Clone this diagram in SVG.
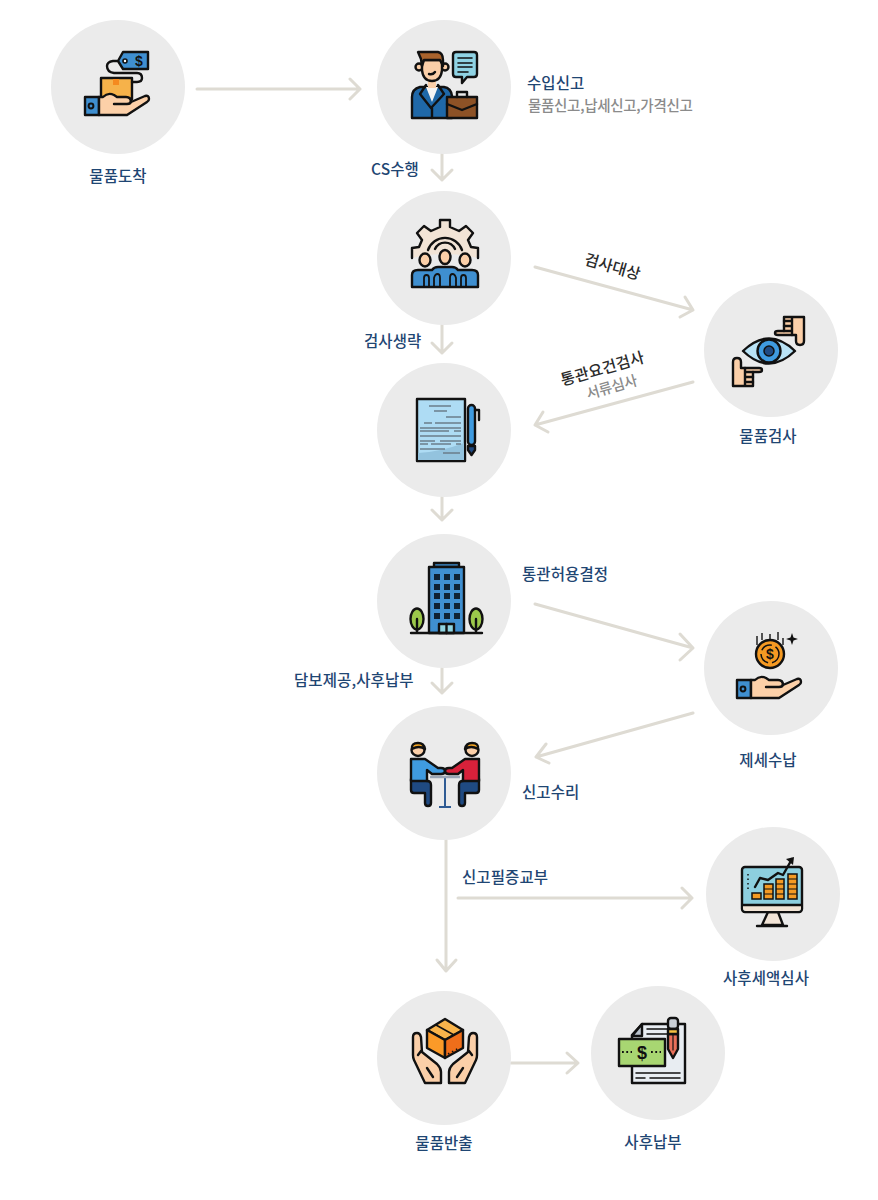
<svg xmlns="http://www.w3.org/2000/svg" xmlns:xlink="http://www.w3.org/1999/xlink" width="878" height="1200" viewBox="0 0 878 1200">
<style>
text{font-family:"Noto Sans CJK KR","Noto Sans",sans-serif;font-size:15.5px;font-weight:500;letter-spacing:.1px}
.n{fill:#1f4673}
.g{fill:#8b8b8b;font-size:14.5px;letter-spacing:-.3px}
.d{fill:#2b2b2b}
.m{text-anchor:middle}
.c{fill:#ebebeb}
.a{fill:none;stroke:#dedbd3;stroke-width:3;stroke-linecap:round;stroke-linejoin:round}
.k{stroke:#111;stroke-width:2.4;stroke-linejoin:round;stroke-linecap:round}
.l{fill:none;stroke:#111;stroke-width:2.4;stroke-linecap:round;stroke-linejoin:round}
.s{font-family:"Liberation Sans",sans-serif;font-weight:700;fill:#111;text-anchor:middle;letter-spacing:0}
</style>
<defs>
<g id="hand">
<rect class="k" x="85" y="97" width="14" height="18" fill="#3f8fd0"/>
<circle cx="91" cy="106" r="2.4" fill="#3f8fd0" stroke="#111" stroke-width="2"/>
<path class="k" fill="#fcd0a8" d="M99,97 L103,97 Q108,92 114,95 L117,97 H126 Q131,97 131,102 L145,96 Q149,95 149,99 Q149,101 147,102 L127,115 H99 Z"/>
<path class="l" d="M114,104 H127 Q131,104 131,101"/>
</g>
<g id="pointer">
<path class="k" fill="#fbcfa8" d="M784,317 H804 V341 Q804,345 800,345 Q796,345 796,341 V335 H778 Q775,335 775,333 Q775,331 778,331 H784 Z"/>
<path class="l" d="M784,321 H792 M784,326 H792 M784,331 H792 M792,318 V335"/>
</g>
<g id="seat">
<path class="k" fill="#1f4a82" d="M411,779 V790 Q411,793 414,793 H425 V803 Q425,806 428,806 Q431,806 431,803 V785 Q431,781 427,781 V779 Z"/>
<path class="k" d="M411,759 H425 L438,768 H441 Q445,768 445,771 Q445,774 441,774 H432 L427,770 V781 H411 Z"/>
<ellipse class="k" cx="418" cy="750" rx="6.5" ry="6" fill="#fbcfa8"/>
<path class="k" fill="#f5a623" d="M412,749 Q411,743 418,743 Q424,743 425,749 Q419,745 412,749 Z"/>
</g>
<g id="palm">
<path class="k" fill="#fbcfa8" d="M425,1083 L414,1060 Q413,1058 413,1055 V1037 Q413,1033 417,1033 Q420,1033 421,1037 L422,1052 L437,1064 Q441,1068 441,1072 V1083 Z"/>
<path class="l" d="M421,1051 L418,1055 M427,1068 L433,1077"/>
</g>
</defs>

<g id="connectors">
<path class="a" d="M197,89 H360 M350,79 L360,89 L350,99"/>
<path class="a" d="M442,154 V180 M432,170 L442,180 L452,170"/>
<path class="a" d="M442,325 V353 M432,343 L442,353 L452,343"/>
<path class="a" d="M442,497 V520 M432,510 L442,520 L452,510"/>
<path class="a" d="M442,668 V693 M432,683 L442,693 L452,683"/>
<path class="a" d="M535,267 L693,310 M685,297 L693,310 L680,317"/>
<path class="a" d="M693,382 L535,425 M543,412 L535,425 L548,432"/>
<path class="a" d="M535,604 L693,648 M680,634 L693,648 L680,660"/>
<path class="a" d="M693,713 L536,757 M546,744 L536,757 L549,763"/>
<path class="a" d="M446,840 V971 M437,960 L446,971 L456,960"/>
<path class="a" d="M458,898 H692 M682,888 L692,898 L682,908"/>
<path class="a" d="M511,1063 H578 M567,1053 L578,1063 L567,1073"/>
</g>

<g id="node-arrival">
<circle class="c" cx="118" cy="87" r="67"/>
<rect class="k" x="101" y="78" width="31" height="21" fill="#f6b24a"/>
<rect x="113" y="79" width="6" height="6" fill="#f58a1f"/>
<path class="l" d="M117,61 H113 Q107,62 107,66 Q107,72 114,73 H137 Q142,73 142,78 Q142,82 137,82 H132"/>
<path class="k" fill="#3f8fd0" d="M118,61 L123,52 H148 V69 H123 Z"/>
<circle cx="125" cy="61" r="2" fill="#fff" stroke="#111" stroke-width="1.6"/>
<text class="s" x="139" y="66" style="font-size:14px">$</text>
<use href="#hand"/>
<text class="n m" x="118" y="182">물품도착</text>
</g>

<g id="node-declare">
<circle class="c" cx="444" cy="87" r="67"/>
<path class="k" fill="#1f68a8" d="M412,118 V97 Q412,89 420,87 H444 Q451,88 452,96 V118 Z"/>
<path fill="#f4f4f4" d="M426,87 H438 L432,102 Z"/>
<path class="l" d="M426,85 L420,94 L431,108 L444,94 L438,85 M432,108 V118"/>
<rect x="428" y="80" width="8" height="8" fill="#fbcfa8"/>
<circle class="k" cx="419" cy="67" r="3.5" fill="#fbcfa8"/>
<circle class="k" cx="445" cy="67" r="3.5" fill="#fbcfa8"/>
<path class="k" fill="#fbcfa8" d="M422,60 H442 V70 Q441,81 432,81 Q423,81 422,70 Z"/>
<path class="k" fill="#a9632c" d="M418,52 H438 Q443,53 443,60 V66 L440,60 H424 L422,66 L421,59 Z"/>
<path class="l" d="M429,74 Q433,75 435,72"/>
<rect class="k" x="447" y="97" width="30" height="21" fill="#8d5226"/>
<path class="l" d="M447,104 L462,110 L477,104 M457,97 V92 H467 V97"/>
<path class="k" fill="#8fd3e4" d="M456,52 H474 Q477,52 477,55 V74 Q477,77 474,77 H467 L462,83 V77 H456 Q453,77 453,74 V55 Q453,52 456,52 Z"/>
<path class="l" d="M458,58 H472 M458,63 H472 M458,67 H472 M458,72 H468" style="stroke-width:1.6"/>
<text class="n" x="527" y="89">수입신고</text>
<text class="g" x="528" y="111">물품신고,납세신고,가격신고</text>
<text class="n" x="371" y="175">CS수행</text>
</g>

<g id="node-inspect-skip">
<circle class="c" cx="444" cy="258" r="67"/>
<path fill="#f2e4d6" d="M412,258 V248 L419,247 L422,240 L417,233 L424,226 L431,231 L440,227 V220 H450 V227 L459,231 L466,226 L473,233 L468,240 L471,247 L478,248 V258 Q445,250 412,258 Z"/>
<path class="l" d="M412,258 V248 L419,247 L422,240 L417,233 L424,226 L431,231 L440,227 V220 H450 V227 L459,231 L466,226 L473,233 L468,240 L471,247 L478,248 V258"/>
<path class="l" d="M428,250 A18,18 0 0 1 462,250 M435,249 A11,11 0 0 1 455,249"/>
<ellipse class="k" cx="425" cy="260" rx="5.500" ry="6.500" fill="#fbcfa8"/>
<ellipse class="k" cx="445" cy="257" rx="5.500" ry="7" fill="#fbcfa8"/>
<ellipse class="k" cx="465" cy="260" rx="5.500" ry="6.500" fill="#fbcfa8"/>
<path class="k" fill="#3f8fd0" d="M412,287 V275 Q412,270 418,270 H432 Q434,267 438,267 H452 Q456,267 458,270 H472 Q478,270 478,275 V287 Z"/>
<path class="l" d="M424,287 V278 Q424,275 426.500,275 Q429,275 429,278 V287 M434,287 V278 Q435,274 437.500,274 Q440,274 440,278 V287 M450,287 V278 Q450,274 452.500,274 Q455,274 456,278 V287 M461,287 V278 Q461,275 463.500,275 Q466,275 466,278 V287" style="stroke-width:1.800"/>
<text class="n" x="364" y="347">검사생략</text>
</g>

<g id="node-document">
<circle class="c" cx="444" cy="430" r="67"/>
<rect class="k" x="417" y="399" width="48" height="62" fill="#aedcf4"/>
<path fill="#93c3de" d="M418,460 V453 Q440,452 464,443 V460 Z"/>
<path fill="none" stroke="#6b7d8a" stroke-width="1.500" d="M429,406 H451 M434,411 H447 M446,417 H461 M424,423 H432 M435,423 H461 M420,428 H461 M420,431 H449 M454,431 H461 M420,436 H461 M420,441 H435 M440,441 H461 M420,444 H428 M431,444 H451 M456,444 H461 M420,449 H445 M443,453 H460"/>
<rect class="k" x="468" y="405" width="7" height="40" rx="3.500" fill="#3f9be0"/>
<path class="k" fill="#1f4a82" d="M468,446 H475 V450 L471.500,455 L468,450 Z"/>
<path class="l" d="M475,410 H479 V420"/>
</g>

<g id="node-inspection">
<circle class="c" cx="771" cy="350" r="67"/>
<path class="k" fill="#b9e3f6" d="M743,351 Q769,326 795,351 Q769,376 743,351 Z"/>
<circle class="k" cx="769" cy="351" r="11.500" fill="#3f9be0"/>
<circle cx="769" cy="351" r="5" fill="#1f4a82" stroke="#111" stroke-width="1.500"/>
<use href="#pointer"/>
<use href="#pointer" transform="rotate(180 768.500 351.500)"/>
<text class="n m" x="768" y="442">물품검사</text>
</g>

<g id="node-building">
<circle class="c" cx="444" cy="601" r="67"/>
<rect class="k" x="434" y="563" width="25" height="4" fill="#3f8fd0"/>
<rect class="k" x="429" y="567" width="35" height="66" fill="#3f8fd0"/>
<g fill="#0f2233">
<rect x="434" y="574" width="6" height="6"/><rect x="444" y="574" width="6" height="6"/><rect x="454" y="574" width="6" height="6"/>
<rect x="434" y="584" width="6" height="6"/><rect x="444" y="584" width="6" height="6"/><rect x="454" y="584" width="6" height="6"/>
<rect x="434" y="593" width="6" height="6"/><rect x="444" y="593" width="6" height="6"/><rect x="454" y="593" width="6" height="6"/>
<rect x="434" y="603" width="6" height="6"/><rect x="444" y="603" width="6" height="6"/><rect x="454" y="603" width="6" height="6"/>
<rect x="434" y="613" width="6" height="6"/><rect x="444" y="613" width="6" height="6"/><rect x="454" y="613" width="6" height="6"/>
</g>
<rect class="k" x="439" y="624" width="15" height="9" fill="#8fd3e0"/>
<path class="l" d="M446.500,624 V633"/>
<ellipse class="k" cx="417" cy="619" rx="6.500" ry="10.500" fill="#9cc84b"/>
<ellipse class="k" cx="476" cy="619" rx="6.500" ry="10.500" fill="#9cc84b"/>
<path class="l" d="M417,619 V633 M476,619 V633 M411,633 H482"/>
<text class="n" x="522" y="580">통관허용결정</text>
<text class="n" x="294" y="686">담보제공,사후납부</text>
</g>

<g id="node-tax">
<circle class="c" cx="771" cy="668" r="67"/>
<path fill="none" stroke="#222" stroke-width="1.500" d="M757,636 V645 M762,633 V640 M770,634 V640 M778,632 V640 M783,638 V645"/>
<circle class="k" cx="770" cy="654" r="14" fill="#f59a23"/>
<circle cx="770" cy="654" r="9" fill="none" stroke="#111" stroke-width="1.500" stroke-dasharray="12 4"/>
<text class="s" x="770" y="659" style="font-size:14px">$</text>
<path fill="#111" d="M792,633 L793.500,637.500 L798,639 L793.500,640.500 L792,645 L790.500,640.500 L786,639 L790.500,637.500 Z"/>
<use href="#hand" transform="translate(652 583)"/>
<text class="n m" x="768" y="766">제세수납</text>
</g>

<g id="node-accepted">
<circle class="c" cx="444" cy="773" r="67"/>
<path fill="none" stroke="#2f5b93" stroke-width="2" d="M445,778 V807 M439,807 H451"/>
<path fill="none" stroke="#9aa5b5" stroke-width="2.500" d="M430,777 H460"/>
<use href="#seat" fill="#3f9be0"/>
<use href="#seat" fill="#d8213a" transform="translate(890 0) scale(-1 1)"/>
<text class="n" x="522" y="798">신고수리</text>
<text class="n" x="462" y="883">신고필증교부</text>
</g>

<g id="node-audit">
<circle class="c" cx="773" cy="894" r="67"/>
<path class="k" fill="#f2e4d6" d="M768,912 H778 L783,925 H762 Z"/>
<path class="l" d="M757,926 H787"/>
<rect class="k" x="742" y="867" width="60" height="45" rx="3" fill="#8dcfdf"/>
<path fill="#f2e4d6" d="M743,905 H801 V908 Q801,911 798,911 H746 Q743,911 743,908 Z"/>
<path class="l" d="M743,905 H801"/>
<g fill="#f59a23" stroke="#111" stroke-width="1.500">
<rect x="752" y="893" width="9" height="6"/>
<rect x="764" y="884" width="9" height="15"/>
<rect x="776" y="879" width="8" height="20"/>
<rect x="788" y="874" width="9" height="25"/>
</g>
<path fill="none" stroke="#111" stroke-width="1.200" d="M764,889 H773 M764,894 H773 M776,884 H784 M776,889 H784 M776,894 H784 M788,879 H797 M788,884 H797 M788,889 H797 M788,894 H797"/>
<path class="l" d="M755,887 L760,878 L768,880 L778,873 L783,875 L792,859"/>
<path fill="#111" d="M794,857 L786,859 L793,865 Z"/>
<path fill="none" stroke="#111" stroke-width="1.500" stroke-dasharray="1.500 3" d="M748,874 V891"/>
<text class="n m" x="766" y="984">사후세액심사</text>
</g>

<g id="node-release">
<circle class="c" cx="444" cy="1058" r="67"/>
<use href="#palm"/>
<use href="#palm" transform="translate(890 0) scale(-1 1)"/>
<path class="k" fill="#f9b44b" d="M445,1019 L463,1030 L445,1040 L427,1030 Z"/>
<path class="k" fill="#fb9a28" d="M427,1030 L445,1040 V1058 L427,1048 Z"/>
<path class="k" fill="#ef6e1a" d="M463,1030 L445,1040 V1058 L463,1048 Z"/>
<path class="l" d="M436,1025 L454,1035" style="stroke-width:1.500"/>
<path fill="none" stroke="#111" stroke-width="1.500" stroke-dasharray="1.500 3" d="M448,1054 L459,1048"/>
<text class="n m" x="444" y="1149">물품반출</text>
</g>

<g id="node-payment">
<circle class="c" cx="658" cy="1053" r="67"/>
<path class="k" fill="#e8edf2" d="M642,1024 H685 V1083 H632 V1035 Z"/>
<path class="k" fill="#b9c2cc" d="M642,1024 V1036 H632 Z"/>
<path class="l" d="M647,1029 H668 M647,1034 H668 M636,1073 H680 M636,1078 H645 M650,1078 H680" style="stroke-width:1.500"/>
<rect class="k" x="619" y="1039" width="46" height="27" fill="#a8d672"/>
<text class="s" x="642" y="1059" style="font-size:18px">$</text>
<path fill="none" stroke="#111" stroke-width="1.800" stroke-dasharray="1.800 2.500" d="M622,1052 H632 M651,1052 H661"/>
<path class="k" fill="#e8705a" d="M668,1034 H678 V1049 L673,1058 L668,1049 Z"/>
<rect class="k" x="668" y="1018" width="10" height="11" rx="3" fill="#c9cfd6"/>
<rect class="k" x="668" y="1029" width="10" height="5" fill="#f6c243"/>
<path class="l" d="M673,1034 V1050" style="stroke-width:1.200"/>
<text class="n m" x="653" y="1148">사후납부</text>
</g>

<g id="labels">
<text class="d m" transform="translate(611 272) rotate(16)">검사대상</text>
<text class="d m" transform="translate(604 374) rotate(-16)">통관요건검사</text>
<text class="g m" transform="translate(613 392) rotate(-16)">서류심사</text>
</g>
</svg>
